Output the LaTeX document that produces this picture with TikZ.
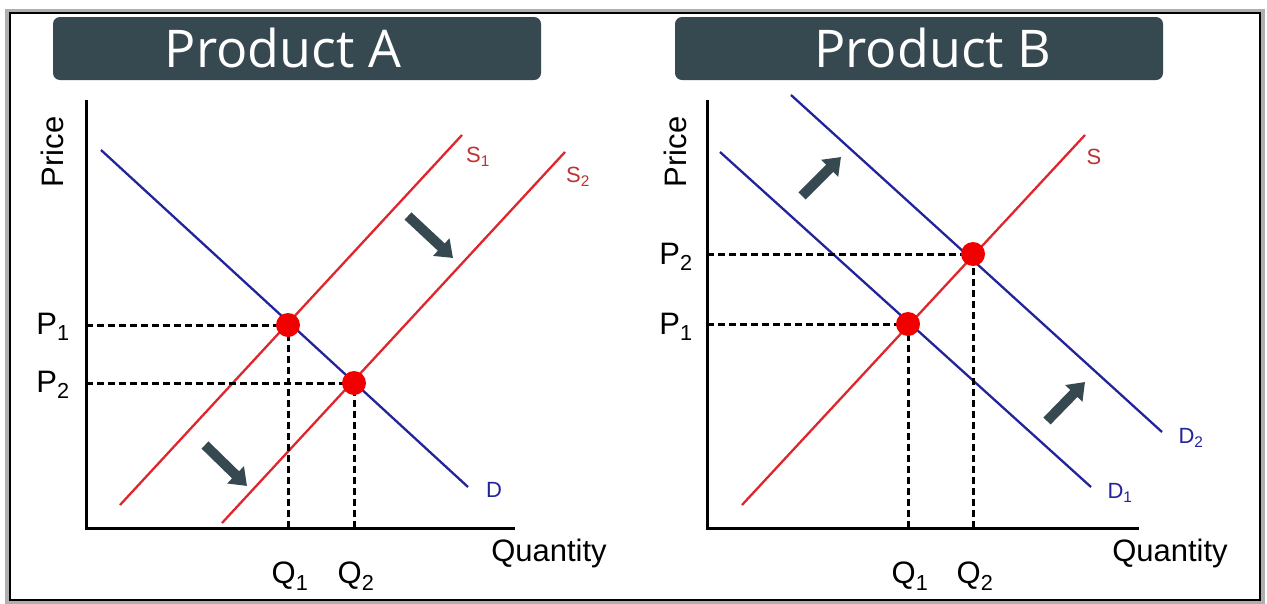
\documentclass[tikz,border=0pt]{standalone}
\usepackage{fontspec}
\setmainfont{Liberation Sans}
\newfontfamily\titlefont{Open Sans}
\usetikzlibrary{arrows.meta}
\definecolor{slate}{RGB}{55,73,80}
\definecolor{dblue}{RGB}{35,35,155}
\definecolor{sred}{RGB}{222,38,44}
\definecolor{dotred}{RGB}{242,0,0}
\definecolor{lblred}{RGB}{190,50,50}
\definecolor{framegrey}{RGB}{175,175,175}
\begin{document}
\begin{tikzpicture}[x=1pt,y=-1pt,
  titlebar/.style={fill=slate, rounded corners=7pt, minimum width=488pt, minimum height=63pt, inner sep=0pt},
  titletext/.style={text=white, inner sep=0pt, font=\titlefont\fontsize{52}{60}\selectfont},
  axis/.style={line width=3pt, black, line join=miter},
  supply/.style={line width=2.3pt, sred},
  demand/.style={line width=2.3pt, dblue},
  guide/.style={line width=3pt, black, dash pattern=on 7pt off 4pt},
  eqdot/.style={circle, fill=dotred, minimum size=24pt, inner sep=0pt},
  shiftarrow/.style={line width=10pt, slate, -{Triangle[width=23pt,length=16pt]}},
  biglabel/.style={inner sep=0pt, font=\fontsize{31}{36}\selectfont},
  smalllabel/.style={inner sep=0pt, font=\fontsize{22}{26}\selectfont},
]
\useasboundingbox (0,0) rectangle (1267,603);
\fill[white] (0,0) rectangle (1267,603);
% frame
\draw[framegrey, line width=4pt] (7,10.5) rectangle (1263,602);
\draw[black, line width=1.5pt] (10,13) rectangle (1260,600);

% ---------- Product A ----------
\node[titlebar] (barA) at (297,48.5) {};
\node[titletext] (titleA) at (283,48) {Product A};

\coordinate (A-top) at (86,100);
\coordinate (A-o) at (86,528);
\coordinate (A-right) at (515,528);
\draw[axis] (A-top) -- (A-o) -- (A-right);

\coordinate (DA-s) at (101,150);
\coordinate (DA-e) at (468,487);
\coordinate (S1A-s) at (120,505);
\coordinate (S1A-e) at (462,135);
\coordinate (S2A-s) at (222,523);
\coordinate (S2A-e) at (565,152);
\draw[demand] (DA-s) -- (DA-e);
\draw[supply] (S1A-s) -- (S1A-e);
\draw[supply] (S2A-s) -- (S2A-e);
\node[smalllabel, text=dblue] (lblD) at (494,490) {D};
\node[smalllabel, text=lblred] (lblS1) at (478,157) {S\textsubscript{1}};
\node[smalllabel, text=lblred] (lblS2) at (578,177) {S\textsubscript{2}};

\coordinate (EA1) at (288,325);
\coordinate (EA2) at (354,383);
\coordinate (PA1ax) at (86,325);
\coordinate (PA2ax) at (86,383);
\coordinate (QA1ax) at (288,528);
\coordinate (QA2ax) at (354,528);
\draw[guide] (PA1ax) -- (EA1);
\draw[guide] (PA2ax) -- (EA2);
\draw[guide] (QA1ax) -- (EA1);
\draw[guide] (QA2ax) -- (EA2);
\node[eqdot] (dotA1) at (EA1) {};
\node[eqdot] (dotA2) at (EA2) {};

\node[biglabel] (PA1) at (53,327) {P\textsubscript{1}};
\node[biglabel] (PA2) at (53,385) {P\textsubscript{2}};
\node[biglabel] (QA1) at (290,576) {Q\textsubscript{1}};
\node[biglabel] (QA2) at (356,576) {Q\textsubscript{2}};
\node[biglabel] (quantA) at (549,553) {Quantity};
\node[biglabel, rotate=90] (priceA) at (52,152) {Price};

\coordinate (arA1s) at (408,216);
\coordinate (arA1e) at (453,258);
\coordinate (arA2s) at (205,445);
\coordinate (arA2e) at (247,486);
\draw[shiftarrow] (arA1s) -- (arA1e);
\draw[shiftarrow] (arA2s) -- (arA2e);

% ---------- Product B ----------
\node[titlebar] (barB) at (919,48.5) {};
\node[titletext] (titleB) at (933,48) {Product B};

\coordinate (B-top) at (707,100);
\coordinate (B-o) at (707,528);
\coordinate (B-right) at (1139,528);
\draw[axis] (B-top) -- (B-o) -- (B-right);

\coordinate (D1B-s) at (720,152);
\coordinate (D1B-e) at (1091,487);
\coordinate (D2B-s) at (791,95);
\coordinate (D2B-e) at (1162,432);
\coordinate (SB-s) at (742,505);
\coordinate (SB-e) at (1085,135);
\draw[demand] (D1B-s) -- (D1B-e);
\draw[demand] (D2B-s) -- (D2B-e);
\draw[supply] (SB-s) -- (SB-e);
\node[smalllabel, text=lblred] (lblS) at (1094,157) {S};
\node[smalllabel, text=dblue] (lblD1) at (1120,493) {D\textsubscript{1}};
\node[smalllabel, text=dblue] (lblD2) at (1191,438) {D\textsubscript{2}};

\coordinate (EB1) at (908,324);
\coordinate (EB2) at (973,254);
\coordinate (PB1ax) at (707,324);
\coordinate (PB2ax) at (707,254);
\coordinate (QB1ax) at (908,528);
\coordinate (QB2ax) at (973,528);
\draw[guide] (PB1ax) -- (EB1);
\draw[guide] (PB2ax) -- (EB2);
\draw[guide] (QB1ax) -- (EB1);
\draw[guide] (QB2ax) -- (EB2);
\node[eqdot] (dotB1) at (EB1) {};
\node[eqdot] (dotB2) at (EB2) {};

\node[biglabel] (PB2) at (676,257) {P\textsubscript{2}};
\node[biglabel] (PB1) at (676,327) {P\textsubscript{1}};
\node[biglabel] (QB1) at (910,576) {Q\textsubscript{1}};
\node[biglabel] (QB2) at (975,576) {Q\textsubscript{2}};
\node[biglabel] (quantB) at (1170,553) {Quantity};
\node[biglabel, rotate=90] (priceB) at (675,152) {Price};

\coordinate (arB1s) at (802,196);
\coordinate (arB1e) at (841,157);
\coordinate (arB2s) at (1047,421);
\coordinate (arB2e) at (1085,382);
\draw[shiftarrow] (arB1s) -- (arB1e);
\draw[shiftarrow] (arB2s) -- (arB2e);
\end{tikzpicture}
\end{document}
